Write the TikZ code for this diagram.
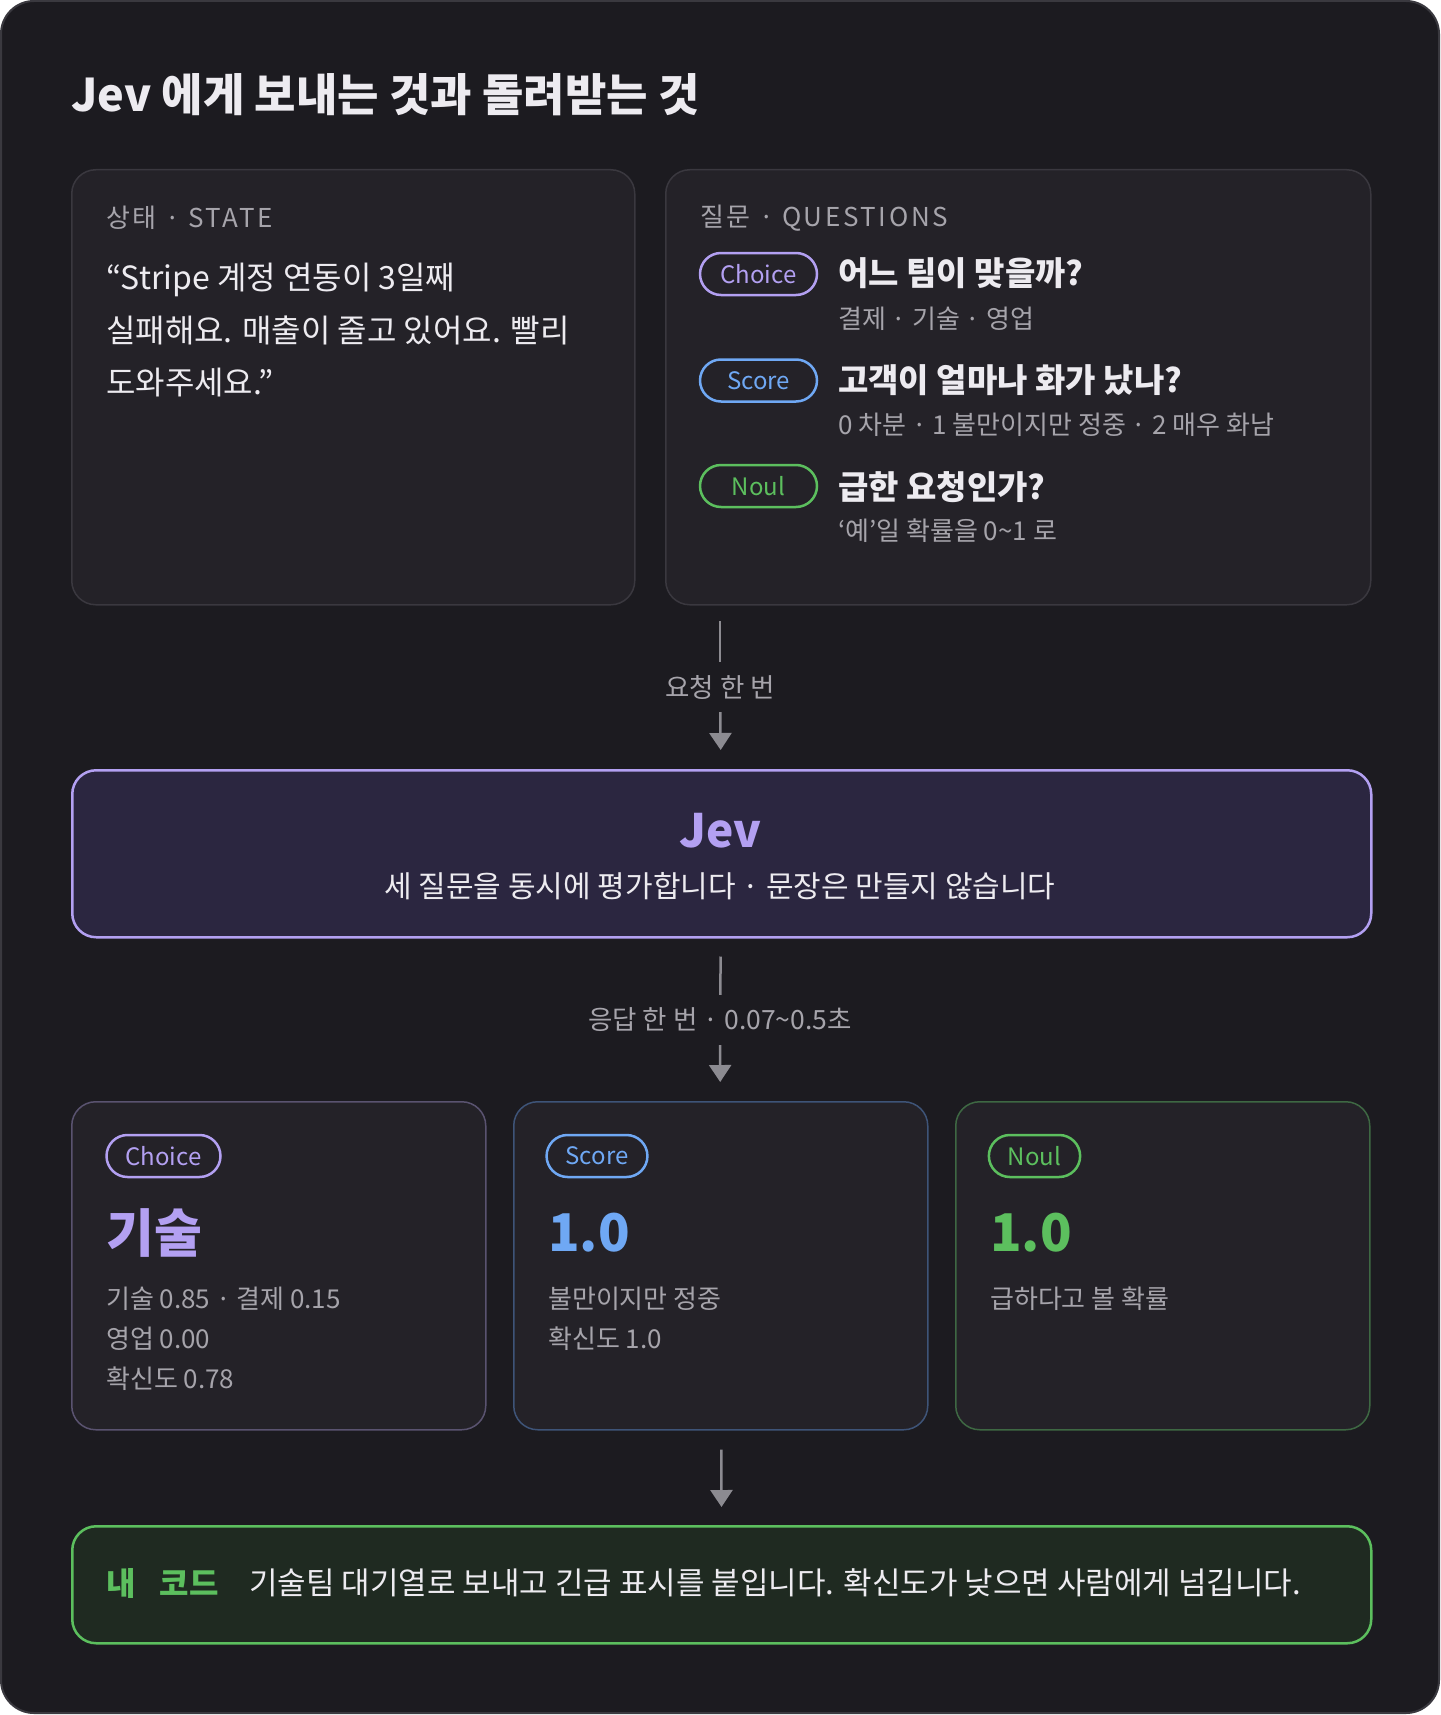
\documentclass[tikz,border=0pt]{standalone}
\usepackage{fontspec}
\setmainfont{Noto Sans CJK KR}
\newfontfamily\wideface[LetterSpace=10]{Noto Sans CJK KR}
\usetikzlibrary{arrows.meta,positioning}

\definecolor{pagebg}{HTML}{1C1B20}
\definecolor{pageline}{HTML}{3A393F}
\definecolor{cardfill}{HTML}{242228}
\definecolor{cardline}{HTML}{3A383F}
\definecolor{textmain}{HTML}{EDEBF0}
\definecolor{textgrey}{HTML}{A6A4AB}
\definecolor{arrowc}{HTML}{8C8B91}
\definecolor{choicec}{HTML}{B3A0F2}
\definecolor{scorec}{HTML}{6FA8F4}
\definecolor{noulc}{HTML}{5CBF5E}
\definecolor{jevfill}{HTML}{2B2640}
\definecolor{codefill}{HTML}{1F2A21}
\definecolor{choiceline}{HTML}{5A5370}
\definecolor{scoreline}{HTML}{3E5478}
\definecolor{noulline}{HTML}{3E6843}

\newcommand{\px}[1]{\fontsize{#1}{#1}\selectfont}

\tikzset{
every node/.style={inner sep=0pt,text=textmain},
card/.style={draw=#1,fill=cardfill,line width=1.5pt,rounded corners=24pt,anchor=north west},
card/.default=cardline,
cardhead/.style={anchor=west,text=textgrey,font=\wideface\px{26}},
pill/.style={draw=#1,text=#1,line width=2.5pt,rounded corners=21pt,minimum height=42pt,inner xsep=19pt,font=\px{24}},
question/.style={anchor=west,font=\bfseries\px{33}},
subtext/.style={anchor=west,text=textgrey,font=\px{26}},
bigval/.style={anchor=west,text=#1,font=\bfseries\px{52}},
detail/.style={anchor=north west,align=left,text=textgrey,font=\fontsize{26}{40}\selectfont},
flowlabel/.style={text=textgrey,font=\px{26.5},minimum height=50pt},
flow/.style={draw=arrowc,line width=2.5pt},
tip/.style={-{Triangle[width=22pt,length=17pt]}}
}

\begin{document}
\begin{tikzpicture}[x=1pt,y=-1pt]
\useasboundingbox (0,0) rectangle (1440,1715);
\fill[white] (0,0) rectangle (1440,1715);
\draw[pageline,fill=pagebg,line width=2pt,rounded corners=33pt] (1,1) rectangle (1439,1713);

% title
\node[anchor=west,font=\bfseries\px{45}] (title) at (71,95) {Jev 에게 보내는 것과 돌려받는 것};

% what goes in
\node[card,minimum width=563pt,minimum height=435pt] (state) at (71,169) {};
\node[cardhead] (statehead) at (106,218) {상태 · STATE};
\node[anchor=north west,align=left,font=\fontsize{32}{52.5}\selectfont] (quote) at (106,263)
  {“Stripe 계정 연동이 3일째\\실패해요. 매출이 줄고 있어요. 빨리\\도와주세요.”};

\node[card,minimum width=705pt,minimum height=435pt] (qst) at (665,169) {};
\node[cardhead] (qsthead) at (700,218) {질문 · QUESTIONS};

\node[pill=choicec,minimum width=117pt] (q1) at (758.5,274) {Choice};
\node[question] (q1t) at (838,273) {어느 팀이 맞을까?};
\node[subtext] (q1s) at (838,319) {결제 · 기술 · 영업};

\node[pill=scorec,minimum width=117pt] (q2) at (758.5,380.5) {Score};
\node[question] (q2t) at (838,380) {고객이 얼마나 화가 났나?};
\node[subtext] (q2s) at (838,425) {0 차분 · 1 불만이지만 정중 · 2 매우 화남};

\node[pill=noulc,minimum width=117pt] (q3) at (758.5,486) {Noul};
\node[question] (q3t) at (838,487) {급한 요청인가?};
\node[subtext] (q3s) at (838,531) {‘예’일 확률을 0\char"007E 1 로};

% the model
\node[draw=choicec,fill=jevfill,line width=2.5pt,rounded corners=24pt,anchor=north west,
  minimum width=1299pt,minimum height=167pt] (jev) at (71,769) {};
\node[text=choicec,font=\bfseries\px{46}] (jevname) at (720,831) {Jev};
\node[font=\px{30}] (jevnote) at (720,886) {세 질문을 동시에 평가합니다 · 문장은 만들지 않습니다};

% what comes back
\node[card=choiceline,minimum width=414pt,minimum height=328pt] (left) at (71,1101) {};
\node[pill=choicec] (r1) at (163.5,1156) {Choice};
\node[bigval=choicec] (r1v) at (106,1233) {기술};
\node[detail] (r1d) at (106,1287) {기술 0.85 · 결제 0.15\\영업 0.00\\확신도 0.78};

\node[card=scoreline,minimum width=414pt,minimum height=328pt] (mid) at (513,1101) {};
\node[pill=scorec] (r2) at (597,1156) {Score};
\node[bigval=scorec] (r2v) at (548,1233) {1.0};
\node[detail] (r2d) at (548,1287) {불만이지만 정중\\확신도 1.0};

\node[card=noulline,minimum width=414pt,minimum height=328pt] (right) at (955,1101) {};
\node[pill=noulc] (r3) at (1034.5,1156) {Noul};
\node[bigval=noulc] (r3v) at (990,1233) {1.0};
\node[detail] (r3d) at (990,1287) {급하다고 볼 확률};

% my code
\node[draw=noulc,fill=codefill,line width=2.5pt,rounded corners=24pt,anchor=north west,
  minimum width=1299pt,minimum height=117pt] (code) at (71,1525) {};
\node[anchor=west,text=noulc,font=\bfseries\px{32}] (codehead) at (106,1583) {내\hspace{24pt}코드};
\node[anchor=west,font=\px{31}] (codenote) at (249,1583) {기술팀 대기열로 보내고 긴급 표시를 붙입니다. 확신도가 낮으면 사람에게 넘깁니다.};

% connectors
\coordinate (ask) at (720,604);
\node[flowlabel] (req) at (720,687) {요청 한 번};
\node[flowlabel] (resp) at (720,1020) {응답 한 번 · 0.07\char"007E 0.5초};
\draw[flow,shorten <=17pt] (ask) -- (req);
\draw[flow,tip,shorten >=19pt] (req) -- (jev);
\draw[flow,shorten <=18pt] (jev) -- (resp);
\draw[flow,tip,shorten >=19pt] (resp) -- (mid);
\draw[flow,tip,shorten <=19pt,shorten >=18pt] (mid) -- (code);
\end{tikzpicture}
\end{document}
